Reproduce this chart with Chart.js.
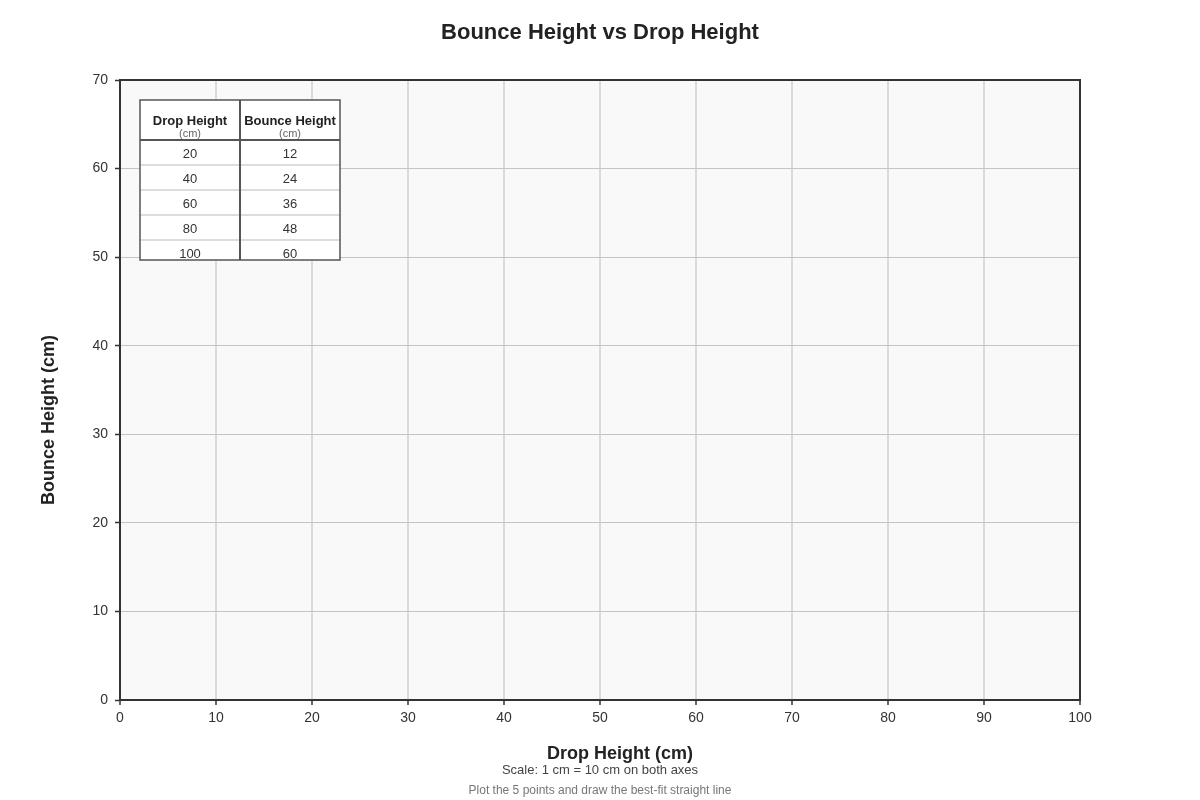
<!DOCTYPE html>
<html>
<head>
<meta charset="utf-8">
<title>Bounce Height vs Drop Height</title>
<script src="https://cdn.jsdelivr.net/npm/chart.js@4.4.1/dist/chart.umd.min.js"></script>
<style>
  body { margin: 0; background: #fff; }
  #wrap { width: 1200px; height: 800px; }
</style>
</head>
<body>
<div id="wrap"><canvas id="chart" width="1200" height="800"></canvas></div>
<script>
"use strict";

// data from the table in the picture
const dropHeights = [20, 40, 60, 80, 100];
const bounceHeights = [12, 24, 36, 48, 60];
const tableHeaders = ["Drop Height", "Bounce Height"];
const tableUnits = ["(cm)", "(cm)"];

// axis ranges
const xMin = 0, xMax = 100, xStep = 10;
const yMin = 0, yMax = 70, yStep = 10;

const chartTitle = "Bounce Height vs Drop Height";
const xTitle = "Drop Height (cm)";
const yTitle = "Bounce Height (cm)";
const footnotes = [
  "Scale: 1 cm = 10 cm on both axes",
  "Plot the 5 points and draw the best-fit straight line"
];

const FONT = "'Liberation Sans', Arial, sans-serif";
Chart.defaults.font.family = FONT;
Chart.defaults.color = "#333";

// plot background + top/right frame
const frame = {
  id: "frame",
  beforeDraw(chart) {
    const { ctx, chartArea: a } = chart;
    ctx.save();
    ctx.fillStyle = "#f9f9f9";
    ctx.fillRect(a.left, a.top, a.right - a.left, a.bottom - a.top);
    ctx.restore();
  },
  afterDraw(chart) {
    const { ctx, chartArea: a } = chart;
    ctx.save();
    ctx.strokeStyle = "#333";
    ctx.lineWidth = 2;
    ctx.strokeRect(a.left, a.top, a.right - a.left, a.bottom - a.top);
    ctx.restore();
  }
};

// the little data table in the corner
const dataTable = {
  id: "dataTable",
  afterDraw(chart) {
    const { ctx, chartArea: a } = chart;
    const x = a.left + 20, y = a.top + 20;
    const colW = 100, headH = 40, rowH = 25, h = 160;
    ctx.save();
    ctx.beginPath();
    ctx.rect(x, y, colW * 2, h);
    ctx.clip();
    ctx.fillStyle = "#fff";
    ctx.fillRect(x, y, colW * 2, h);

    ctx.textAlign = "center";
    ctx.textBaseline = "middle";
    for (let c = 0; c < 2; c++) {
      const cx = x + colW * c + colW / 2;
      ctx.fillStyle = "#222";
      ctx.font = "bold 13px " + FONT;
      ctx.fillText(tableHeaders[c], cx, y + 21);
      ctx.fillStyle = "#666";
      ctx.font = "11px " + FONT;
      ctx.fillText(tableUnits[c], cx, y + 34);
    }

    ctx.font = "13px " + FONT;
    dropHeights.forEach((d, i) => {
      const ry = y + headH + rowH * i;
      if (i > 0) {
        ctx.strokeStyle = "#ddd";
        ctx.lineWidth = 2;
        ctx.beginPath();
        ctx.moveTo(x, ry);
        ctx.lineTo(x + colW * 2, ry);
        ctx.stroke();
      }
      ctx.fillStyle = "#333";
      ctx.fillText(String(d), x + colW / 2, ry + rowH / 2 + 1.5);
      ctx.fillText(String(bounceHeights[i]), x + colW * 1.5, ry + rowH / 2 + 1.5);
    });

    ctx.strokeStyle = "#555";
    ctx.lineWidth = 2;
    ctx.beginPath();
    ctx.moveTo(x, y + headH);
    ctx.lineTo(x + colW * 2, y + headH);
    ctx.moveTo(x + colW, y);
    ctx.lineTo(x + colW, y + h);
    ctx.stroke();
    ctx.restore();

    ctx.save();
    ctx.strokeStyle = "#555";
    ctx.lineWidth = 1.5;
    ctx.strokeRect(x, y, colW * 2, h);
    ctx.restore();
  }
};

// titles and footnotes
const labels = {
  id: "labels",
  afterDraw(chart) {
    const { ctx } = chart;
    ctx.save();
    ctx.textAlign = "center";
    ctx.textBaseline = "middle";

    ctx.fillStyle = "#222";
    ctx.font = "bold 22px " + FONT;
    ctx.fillText(chartTitle, 600, 33);

    ctx.font = "bold 18px " + FONT;
    ctx.fillText(xTitle, 620, 754);

    ctx.save();
    ctx.translate(49, 420);
    ctx.rotate(-Math.PI / 2);
    ctx.fillText(yTitle, 0, 0);
    ctx.restore();

    ctx.fillStyle = "#444";
    ctx.font = "13px " + FONT;
    ctx.fillText(footnotes[0], 600, 770);
    ctx.fillStyle = "#777";
    ctx.font = "12px " + FONT;
    ctx.fillText(footnotes[1], 600, 791);
    ctx.restore();
  }
};

const ctx = document.getElementById("chart").getContext("2d");
new Chart(ctx, {
  type: "scatter",
  data: {
    datasets: [{
      label: "Bounce vs Drop",
      data: [] // left blank for the student to plot
    }]
  },
  options: {
    responsive: false,
    animation: false,
    layout: { padding: { left: 34, right: 120, top: 80, bottom: 31 } },
    plugins: {
      legend: { display: false },
      tooltip: { enabled: false },
      title: { display: false }
    },
    scales: {
      x: {
        type: "linear",
        min: xMin,
        max: xMax,
        afterFit(scale) { scale.height = 69; },
        ticks: { stepSize: xStep, padding: 5, color: "#333", font: { size: 14 } },
        grid: { color: "#dadada", lineWidth: 2, tickColor: "#333", tickLength: 5, tickWidth: 1.5 },
        border: { color: "#333", width: 2 }
      },
      y: {
        type: "linear",
        min: yMin,
        max: yMax,
        afterFit(scale) { scale.width = 86; },
        ticks: { stepSize: yStep, padding: 7, color: "#333", font: { size: 14 } },
        grid: { color: "#c4c4c4", lineWidth: 1, tickColor: "#333", tickLength: 5, tickWidth: 1.5 },
        border: { color: "#333", width: 2 }
      }
    }
  },
  plugins: [frame, dataTable, labels]
});
</script>
</body>
</html>
